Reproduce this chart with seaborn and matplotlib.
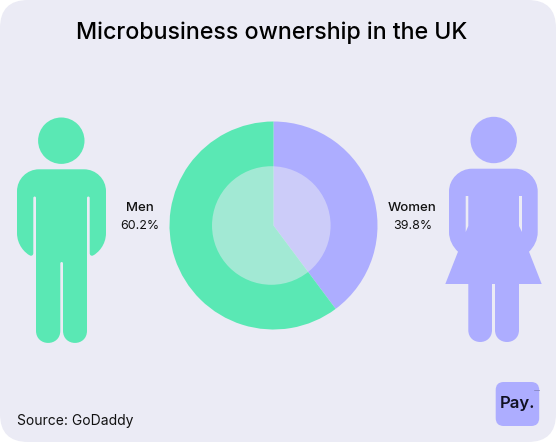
import matplotlib
matplotlib.use("Agg")
import matplotlib.pyplot as plt
import seaborn as sns
from matplotlib.patches import Circle, FancyBboxPatch, PathPatch, Polygon
from matplotlib.path import Path

categories = ["Women", "Men"]
shares = [39.8, 60.2]
title = "Microbusiness ownership in the UK"
source = "Source: GoDaddy"

GREEN = "#5AE8B4"
PURPLE = "#ADADFF"
BG = "#EBEBF5"
W, H = 556, 442


def draw_path(ax, steps, color):
    # steps: ("M"/"L", p) or ("C", c1, c2, p)
    verts, codes = [], []
    for s in steps:
        if s[0] == "M":
            verts.append(s[1]); codes.append(Path.MOVETO)
        elif s[0] == "L":
            verts.append(s[1]); codes.append(Path.LINETO)
        else:
            verts += [s[1], s[2], s[3]]; codes += [Path.CURVE4] * 3
    verts.append(verts[0]); codes.append(Path.CLOSEPOLY)
    ax.add_patch(PathPatch(Path(verts, codes), fc=color, ec="none"))


def draw_man(ax, color):
    ax.add_patch(Circle((61.3, 140.7), 23.2, fc=color, ec="none"))
    draw_path(ax, [
        ("M", (39, 169.3)), ("L", (84, 169.3)),
        ("C", (96, 169.3), (106, 179), (106, 191.3)),
        ("L", (106, 233)),
        ("C", (106, 245), (98, 253), (93, 255.5)),
        ("C", (91, 256.3), (89.7, 255), (89.7, 253)),
        ("L", (89.7, 198)),
        ("C", (89.7, 196), (87, 196), (87, 198)),
        ("L", (87, 330.7)),
        ("C", (87, 347), (63, 347), (63, 330.7)),
        ("L", (63, 263.5)),
        ("C", (63, 261.5), (60.3, 261.5), (60.3, 263.5)),
        ("L", (60.3, 330.7)),
        ("C", (60.3, 347), (36, 347), (36, 330.7)),
        ("L", (36, 198)),
        ("C", (36, 196), (33.3, 196), (33.3, 198)),
        ("L", (33.3, 253)),
        ("C", (33.3, 255), (32, 256.3), (30, 255.5)),
        ("C", (25, 253), (17, 245), (17, 233)),
        ("L", (17, 191.3)),
        ("C", (17, 179), (27, 169.3), (39, 169.3)),
    ], color)


def draw_woman(ax, color, bg):
    ax.add_patch(Circle((493.7, 140), 23.2, fc=color, ec="none"))
    draw_path(ax, [
        ("M", (472, 168.7)), ("L", (515, 168.7)),
        ("C", (527.5, 168.7), (537.7, 179), (537.7, 191.5)),
        ("L", (537.7, 232)),
        ("C", (537.7, 240), (534, 247), (529, 251.7)),
        ("L", (541.7, 284)), ("L", (519, 284)), ("L", (519, 330)),
        ("C", (519, 346), (495, 346), (495, 330)),
        ("L", (495, 284)), ("L", (492, 284)), ("L", (492, 330)),
        ("C", (492, 346), (468.3, 346), (468.3, 330)),
        ("L", (468.3, 284)), ("L", (445.3, 284)), ("L", (458, 251.7)),
        ("C", (453, 247), (449, 240), (449, 232)),
        ("L", (449, 191.5)),
        ("C", (449, 179), (459.5, 168.7), (472, 168.7)),
    ], color)
    # slits between arms and body
    ax.add_patch(Polygon([(465.7, 196), (468.3, 196), (468.3, 226), (465.7, 232)], fc=bg, ec="none"))
    ax.add_patch(Polygon([(519, 196), (522, 196), (522, 232), (519, 226)], fc=bg, ec="none"))


def main():
    sns.set_theme(style="white")
    plt.rcParams["font.family"] = ["Inter", "DejaVu Sans"]

    fig = plt.figure(figsize=(W / 100, H / 100), dpi=100, facecolor="white")
    ax = fig.add_axes([0, 0, 1, 1])
    ax.set_xlim(0, W)
    ax.set_ylim(H, 0)
    ax.axis("off")

    # card background
    ax.add_patch(FancyBboxPatch((28, 28), W - 56, H - 56, boxstyle="round,pad=28,rounding_size=28",
                                fc=BG, ec="none"))

    ax.text(271.5, 33, title, ha="center", va="center", fontsize=16.7, fontweight="medium", color="black")
    draw_man(ax, GREEN)
    draw_woman(ax, PURPLE, BG)

    ax.text(140, 208, "Men", ha="center", va="center", fontsize=9.5, fontweight="medium", color="#111111")
    ax.text(140, 226, "%.1f%%" % shares[1], ha="center", va="center", fontsize=9, color="#111111")
    ax.text(412.5, 208, "Women", ha="center", va="center", fontsize=9.5, fontweight="medium", color="#111111")
    ax.text(412.5, 226, "%.1f%%" % shares[0], ha="center", va="center", fontsize=9, color="#111111")
    ax.text(17, 421, source, ha="left", va="center", fontsize=10, color="#111111")

    # logo
    ax.add_patch(FancyBboxPatch((503.7, 390), 27.5, 28, boxstyle="round,pad=8,rounding_size=8",
                                fc=PURPLE, ec="none"))
    ax.plot([534, 539], [390.3, 390.3], color="#8A8AC8", lw=0.7)
    ax.text(517.5, 403.5, "Pay.", ha="center", va="center", fontsize=12, fontweight="semibold", color="#111122")

    # pie with a see-through disc on top
    r = 104
    cx, cy = 273.5, 225.5
    pie_ax = fig.add_axes([(cx - r) / W, 1 - (cy + r) / H, 2 * r / W, 2 * r / H])
    pie_ax.patch.set_alpha(0)
    pie_ax.pie(shares, colors=[PURPLE, GREEN], startangle=90, counterclock=False, radius=1.0,
               wedgeprops={"linewidth": 0})
    pie_ax.set_xlim(-1, 1)
    pie_ax.set_ylim(-1, 1)
    pie_ax.add_patch(Circle((-0.021, 0), 0.57, fc=BG, ec="none", alpha=0.5))

    fig.savefig("out.png", dpi=100)


if __name__ == "__main__":
    main()
